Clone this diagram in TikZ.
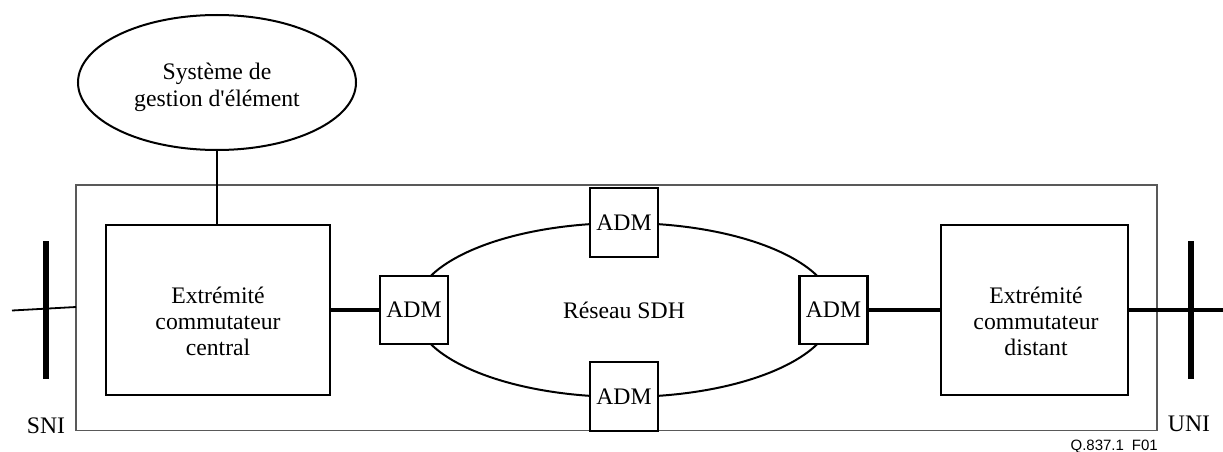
\documentclass[tikz,border=0pt]{standalone}
\usepackage{fontspec}
\setmainfont{Liberation Serif}
\newfontfamily\figsans{Liberation Sans}
\usetikzlibrary{shapes.geometric}
\begin{document}
\begin{tikzpicture}[x=1pt,y=-1pt,
  bigfont/.style={font=\fontsize{23.7}{26}\selectfont},
  txt/.style={bigfont, align=center, inner sep=0pt},
  blockbox/.style={draw, line width=2.3pt, inner sep=0pt, minimum height=170pt},
  admbox/.style={draw, line width=2.3pt, fill=white, inner sep=0pt, minimum width=68pt, minimum height=68pt, bigfont},
  thickconn/.style={line width=4pt},
  thinconn/.style={line width=2pt},
  barline/.style={line width=6pt},
  framebox/.style={draw=black!65, line width=1.3pt}
]
\useasboundingbox (0,0) rectangle (1223,452);

% outer frame
\draw[framebox] (76,185) rectangle (1157,430.7);

% element management system
\node[ellipse, draw, line width=2pt, minimum width=278pt, minimum height=135pt, inner sep=0pt] (esg) at (217,82.5) {};
\node[txt] (esgtxt) at (217,87) {Système de\\[1pt]gestion d\textquotesingle élément};

% end boxes
\node[blockbox, minimum width=224pt] (central) at (218,310) {};
\node[txt] (centraltxt) at (218,321) {Extrémité\\commutateur\\central};
\node[blockbox, minimum width=187pt] (distant) at (1034.5,310) {};
\node[txt] (distanttxt) at (1036,321) {Extrémité\\commutateur\\distant};

% SDH ring
\node[ellipse, draw, line width=2pt, minimum width=420pt, minimum height=174pt, inner sep=0pt, bigfont] (ring) at (624,310) {Réseau SDH};

% ADMs
\node[admbox] (admL) at (414,310) {ADM};
\node[admbox] (admR) at (833.5,310) {ADM};
\node[admbox, minimum height=69pt] (admT) at (624,222.5) {ADM};
\node[admbox, minimum height=69pt] (admB) at (624,396.5) {ADM};

% connectors
\draw[thinconn] (esg.south) -- (esg.south |- central.north);
\draw[thickconn] (central.east) -- (admL.west);
\draw[thickconn] (admR.east) -- (distant.west);
\coordinate (rightend) at (1223,310);
\draw[thickconn] (distant.east) -- (rightend);
\coordinate (leftend) at (12,310.5);
\coordinate (leftframe) at (76,307);
\draw[line width=1.8pt] (leftend) -- (leftframe);

% interface bars
\coordinate (sniTop) at (46,241);
\coordinate (sniBot) at (46,379);
\draw[barline] (sniTop) -- (sniBot);
\coordinate (uniTop) at (1191,241);
\coordinate (uniBot) at (1191,379);
\draw[barline] (uniTop) -- (uniBot);

% labels
\node[txt] (sni) at (46,426) {SNI};
\node[txt] (uni) at (1189,424) {UNI};
\node[inner sep=0pt, anchor=base east, font=\figsans\fontsize{15}{17}\selectfont] (fig) at (1158,450) {Q.837.1\hspace{8pt}F01};
\end{tikzpicture}
\end{document}
